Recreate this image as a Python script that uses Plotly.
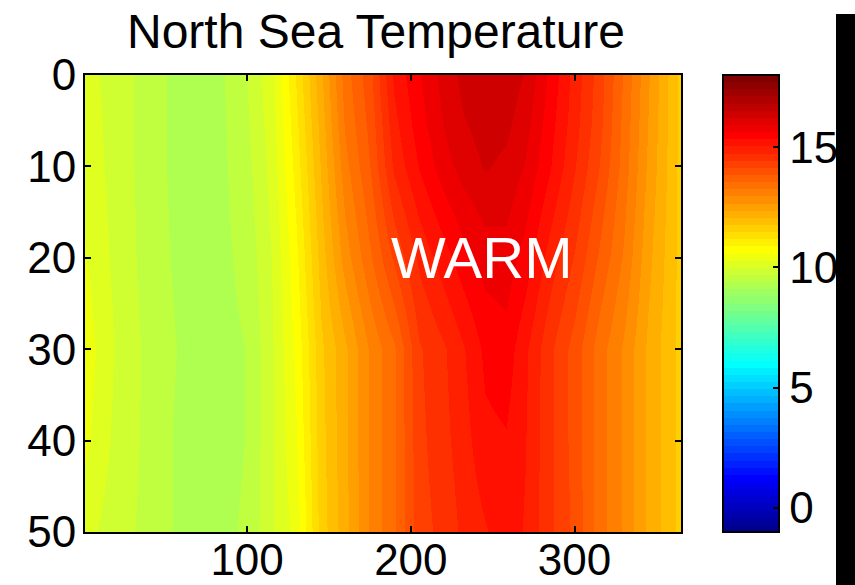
import numpy as np
import plotly.graph_objects as go

# Day of year (columns) and depth in metres (rows)
days = [1, 20, 40, 60, 80, 100, 115, 130, 145, 160, 175, 190, 205, 220,
        232, 245, 258, 270, 285, 300, 315, 330, 345, 365]
depths = [0, 5, 10, 20, 30, 40, 50]

# Water temperature (deg C) at each depth across the year
temp_0m = [10.1, 9.85, 9.55, 9.25, 9.25, 9.7, 10.2, 11.2, 12.3, 13.4, 14.05, 15.1,
           15.6, 16.05, 16.3, 16.45, 16.4, 16.2, 15.55, 14.9, 14.3, 13.5, 12.7, 11.65]
temp_5m = [10.15, 9.85, 9.55, 9.25, 9.25, 9.65, 10.15, 11.1, 12.2, 13.3, 13.95, 14.95,
           15.5, 15.95, 16.2, 16.35, 16.3, 16.05, 15.45, 14.85, 14.25, 13.45, 12.65, 11.65]
temp_10m = [10.2, 9.85, 9.55, 9.25, 9.25, 9.6, 10.1, 11.0, 12.1, 13.15, 13.85, 14.8,
            15.35, 15.8, 16.05, 16.25, 16.15, 15.9, 15.35, 14.75, 14.15, 13.4, 12.6, 11.65]
temp_20m = [10.3, 9.9, 9.55, 9.3, 9.25, 9.5, 10.0, 10.8, 11.9, 12.8, 13.5, 14.2,
            14.8, 15.2, 15.5, 15.75, 15.8, 15.5, 14.9, 14.4, 13.8, 13.2, 12.45, 11.65]
temp_30m = [10.45, 9.95, 9.6, 9.35, 9.25, 9.4, 9.95, 10.65, 11.7, 12.3, 13.0, 13.5,
            14.4, 14.7, 15.0, 15.4, 15.5, 15.1, 14.5, 14.0, 13.4, 12.9, 12.3, 11.65]
temp_40m = [10.35, 9.9, 9.6, 9.3, 9.25, 9.4, 9.95, 10.55, 11.65, 12.3, 13.0, 13.5,
            14.35, 14.65, 14.9, 15.25, 15.3, 15.05, 14.5, 14.0, 13.4, 12.9, 12.3, 11.65]
temp_50m = [10.1, 9.8, 9.6, 9.3, 9.25, 9.45, 9.95, 10.4, 11.6, 12.25, 13.0, 13.5,
            14.3, 14.55, 14.8, 15.0, 15.2, 15.0, 14.5, 14.05, 13.4, 12.9, 12.3, 11.65]

temperature = [temp_0m, temp_5m, temp_10m, temp_20m, temp_30m, temp_40m, temp_50m]

x_ticks = [100, 200, 300]
y_ticks = [0, 10, 20, 30, 40, 50]
cbar_ticks = [0, 5, 10, 15]
c_min, c_max = -1, 18

FONT = "Liberation Sans, Arial, Helvetica, sans-serif"


def jet(m=64):
    """Classic 64-entry jet colormap."""
    n = int(np.ceil(m / 4))
    u = np.concatenate([np.arange(1, n + 1) / n, np.ones(n - 1),
                        np.arange(n, 0, -1) / n])
    g = int(np.ceil(n / 2)) - (1 if m % 4 == 1 else 0) + np.arange(1, len(u) + 1)
    r = g + n
    b = g - n
    r = r[r <= m]
    gg = g[g <= m]
    b = b[b >= 1]
    J = np.zeros((m, 3))
    J[r - 1, 0] = u[:len(r)]
    J[gg - 1, 1] = u[:len(gg)]
    J[b - 1, 2] = u[len(u) - len(b):]
    return J


# Stepped colour scale so the shading shows the 64 distinct bands
cmap = jet(64)
colorscale = []
for k, (rr, gv, bb) in enumerate(cmap):
    c = f"rgb({int(round(rr * 255))},{int(round(gv * 255))},{int(round(bb * 255))})"
    colorscale.append([k / 64, c])
    colorscale.append([(k + 1) / 64, c])

fig = go.Figure()
fig.add_trace(go.Heatmap(
    x=days, y=depths, z=temperature,
    zsmooth="best",
    zmin=c_min, zmax=c_max,
    colorscale=colorscale,
    hoverinfo="skip",
    colorbar=dict(
        x=(723 - 85) / 596, xanchor="left", xpad=0,
        y=0, yanchor="bottom", len=1, lenmode="fraction",
        ypad=0,
        thickness=56, thicknessmode="pixels",
        outlinecolor="black", outlinewidth=2,
        tickvals=cbar_ticks, ticks="inside", ticklen=7,
        tickcolor="black", tickwidth=2,
        tickfont=dict(family=FONT, size=44, color="black"),
    ),
))

axis_common = dict(
    showline=True, linecolor="black", linewidth=2, mirror="ticks",
    ticks="inside", ticklen=6, tickwidth=2, tickcolor="black",
    showgrid=False, zeroline=False,
    tickfont=dict(family=FONT, size=44, color="black"),
)

fig.update_xaxes(range=[1, 365], tickvals=x_ticks, ticklabelstandoff=-12,
                 **axis_common)
fig.update_yaxes(range=[50, 0], tickvals=y_ticks, ticklabelstandoff=-2,
                 **axis_common)

fig.add_annotation(
    x=243, y=20, xref="x", yref="y",
    text="WARM", showarrow=False,
    font=dict(family=FONT, size=58, color="white"),
    xanchor="center", yanchor="middle",
)

# Black strip down the right-hand edge
fig.add_shape(
    type="rect", xref="paper", yref="paper",
    x0=(836 - 85) / 596, x1=1.4, y0=-0.3, y1=(532 - 14) / 457,
    fillcolor="black", line=dict(width=0), layer="above",
)

fig.update_layout(
    width=855, height=585,
    margin=dict(l=85, r=174, t=75, b=53, autoexpand=False),
    paper_bgcolor="white", plot_bgcolor="white",
    title=dict(
        text="North Sea Temperature",
        x=(376 - 85) / 596, xref="paper", xanchor="center",
        y=1 - 31 / 585, yref="container", yanchor="middle",
        font=dict(family=FONT, size=48, color="black"),
    ),
    showlegend=False,
)

fig.write_html("out.html")
